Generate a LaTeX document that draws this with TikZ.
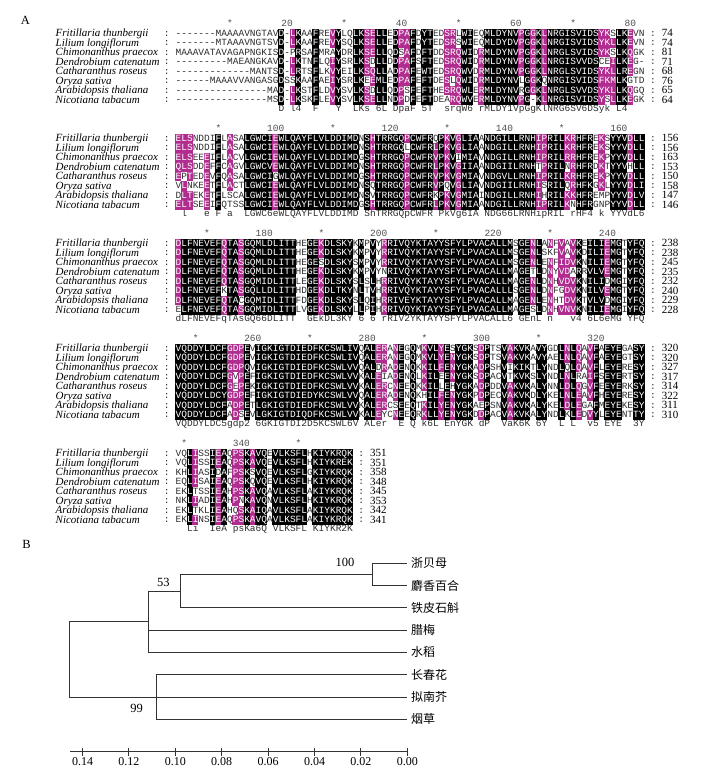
\documentclass[tikz,border=0pt]{standalone}
\usepackage{fontspec}
\setmainfont{Liberation Serif}
\newfontfamily\alnmono{Liberation Mono}
\newfontfamily\cjkfont{Noto Sans CJK SC}
\definecolor{shm}{RGB}{176,44,142}
\definecolor{txtdark}{RGB}{45,45,45}
\definecolor{rulergray}{RGB}{80,80,80}
\newcommand\alnfontsel{\alnmono\fontsize{9.5}{9.5}\selectfont}
\newcommand\alnnamefont{\itshape\fontsize{11}{11}\selectfont}
\newcommand\alnnumfont{\fontsize{11}{11}\selectfont}
\newcommand\alncolon{:}

\ExplSyntaxOn
\int_new:N \l__aln_len_int
\int_new:N \l__aln_off_int
\int_new:N \l__aln_best_int
\int_new:N \l__aln_cnt_int
\int_new:N \l__aln_set_int
\int_new:N \l__aln_bestg_int
\int_new:N \l__aln_cls_int
\int_new:N \l__aln_run_int
\int_new:N \l__aln_start_int
\int_new:N \l__aln_cur_int
\str_new:N \l__aln_best_str
\str_new:N \l__aln_a_str
\str_new:N \l__aln_b_str
\bool_new:N \l__aln_in_bool
\tl_new:N \l__aln_cons_tl
\tl_new:N \l__aln_text_tl
\tl_new:N \l__aln_ruler_tl
\tl_new:N \l__aln_y_tl
\tl_new:N \l__aln_rowy_tl
\tl_new:N \l__aln_xa_tl
\tl_new:N \l__aln_xb_tl
\tl_new:N \l__aln_ya_tl
\tl_new:N \l__aln_yb_tl
\tl_new:N \l__aln_col_tl
\seq_new:N \l__aln_nums_seq
\seq_new:N \g__aln_names_seq
\int_step_inline:nn {8}
  {
    \str_new:c { l__aln_row_#1_str }
    \str_new:c { l__aln_c_#1_str }
    \tl_new:c { l__aln_sh_#1_tl }
  }
\seq_gset_from_clist:Nn \g__aln_names_seq
  {
    Fritillaria~thunbergii, Lilium~longiflorum, Chimonanthus~praecox,
    Dendrobium~catenatum, Catharanthus~roseus, Oryza~sativa,
    Arabidopsis~thaliana, Nicotiana~tabacum
  }
\cs_new:Npn \__aln_group:n #1
  {
    \str_case:nnF {#1}
      {
        {D}{1} {N}{1} {E}{2} {Q}{2} {S}{3} {T}{3} {K}{4} {R}{4}
        {F}{5} {Y}{5} {W}{5} {L}{6} {I}{6} {V}{6} {M}{6}
      }
      {0}
  }
\cs_new_protected:Npn \__aln_cell:nn #1#2
  { \hbox_to_wd:nn { 5.72pt } { \hss \color{#1} #2 \hss } }
\NewDocumentCommand \SetRow { m m }
  { \str_set:cn { l__aln_row_#1_str } {#2} }

\cs_new_protected:Npn \__aln_test:n #1
  {
    \bool_set_false:N \l__aln_in_bool
    \str_set_eq:Nc \l__aln_a_str { l__aln_c_#1_str }
    \str_if_empty:NF \l__aln_a_str
      {
        \str_if_eq:VnF \l__aln_a_str { - }
          {
            \str_if_eq:VVT \l__aln_a_str \l__aln_best_str
              { \bool_set_true:N \l__aln_in_bool }
            \int_compare:nNnT { \l__aln_bestg_int } > { 0 }
              {
                \int_compare:nNnT { \exp_args:NV \__aln_group:n \l__aln_a_str } = { \l__aln_bestg_int }
                  { \bool_set_true:N \l__aln_in_bool }
              }
          }
      }
  }

\cs_new_protected:Npn \__aln_column:n #1
  {
    \int_step_inline:nn {8}
      {
        \str_set:cx { l__aln_c_##1_str }
          { \exp_args:Nc \str_item:Nn { l__aln_row_##1_str } {#1} }
      }
    \int_zero:N \l__aln_best_int
    \str_clear:N \l__aln_best_str
    \int_step_inline:nn {8}
      {
        \str_set_eq:Nc \l__aln_a_str { l__aln_c_##1_str }
        \str_if_empty:NF \l__aln_a_str
          {
            \str_if_eq:VnF \l__aln_a_str { - }
              {
                \int_zero:N \l__aln_cnt_int
                \int_step_inline:nn {8}
                  {
                    \str_set_eq:Nc \l__aln_b_str { l__aln_c_####1_str }
                    \str_if_eq:VVT \l__aln_a_str \l__aln_b_str
                      { \int_incr:N \l__aln_cnt_int }
                  }
                \int_compare:nNnT { \l__aln_cnt_int } > { \l__aln_best_int }
                  {
                    \int_set_eq:NN \l__aln_best_int \l__aln_cnt_int
                    \str_set_eq:NN \l__aln_best_str \l__aln_a_str
                  }
              }
          }
      }
    \int_set:Nn \l__aln_bestg_int { \exp_args:NV \__aln_group:n \l__aln_best_str }
    \int_zero:N \l__aln_set_int
    \int_step_inline:nn {8}
      {
        \__aln_test:n {##1}
        \bool_if:NT \l__aln_in_bool { \int_incr:N \l__aln_set_int }
      }
    \int_set:Nn \l__aln_cls_int
      {
        \int_compare:nNnTF { \l__aln_set_int } = { 8 } { 2 }
          { \int_compare:nNnTF { \l__aln_set_int } > { 5 } { 1 } { 0 } }
      }
    \int_step_inline:nn {8}
      {
        \__aln_test:n {##1}
        \tl_put_right:cx { l__aln_sh_##1_tl }
          { \bool_if:NTF \l__aln_in_bool { \int_use:N \l__aln_cls_int } { 0 } }
      }
    \int_compare:nNnTF { \l__aln_best_int } = { 8 }
      { \tl_put_right:Nx \l__aln_cons_tl { \__aln_cell:nn { txtdark } { \l__aln_best_str } } }
      {
        \int_compare:nNnTF { \l__aln_set_int } = { 8 }
          { \tl_put_right:Nx \l__aln_cons_tl { \__aln_cell:nn { txtdark } { \int_use:N \l__aln_bestg_int } } }
          {
            \int_compare:nNnTF { \l__aln_best_int } > { 5 }
              { \tl_put_right:Nx \l__aln_cons_tl { \__aln_cell:nn { txtdark } { \exp_not:N \lowercase { \l__aln_best_str } } } }
              { \tl_put_right:Nn \l__aln_cons_tl { \__aln_cell:nn { txtdark } { } } }
          }
      }
  }

\cs_new_protected:Npn \__aln_fill:nnnn #1#2#3#4
  {
    \tl_set:Nx \l__aln_xa_tl { \fp_eval:n { 175.4 + (#2 - 1) * 5.72 - 0.2 } }
    \tl_set:Nx \l__aln_xb_tl { \fp_eval:n { 175.4 + (#3) * 5.72 + 0.2 } }
    \tl_set:Nx \l__aln_ya_tl { \fp_eval:n { #4 - 4.8 } }
    \tl_set:Nx \l__aln_yb_tl { \fp_eval:n { #4 + 4.8 } }
    \tl_set:Nx \l__aln_col_tl { \int_compare:nNnTF {#1} = {2} {black} {shm} }
    \fill [ color = \l__aln_col_tl ] ( \l__aln_xa_tl , \l__aln_ya_tl ) rectangle ( \l__aln_xb_tl , \l__aln_yb_tl ) ;
  }

\cs_new_protected:Npn \__aln_draw_row:nnn #1#2#3
  {
    \int_zero:N \l__aln_run_int
    \int_set:Nn \l__aln_start_int { 1 }
    \int_step_inline:nn { \l__aln_len_int + 1 }
      {
        \int_compare:nNnTF { ##1 } > { \l__aln_len_int }
          { \int_zero:N \l__aln_cur_int }
          { \int_set:Nn \l__aln_cur_int { \tl_item:cn { l__aln_sh_#1_tl } { ##1 } } }
        \int_compare:nNnF { \l__aln_cur_int } = { \l__aln_run_int }
          {
            \int_compare:nNnT { \l__aln_run_int } > { 0 }
              { \__aln_fill:nnnn { \l__aln_run_int } { \l__aln_start_int } { ##1 - 1 } { #2 } }
            \int_set_eq:NN \l__aln_run_int \l__aln_cur_int
            \int_set:Nn \l__aln_start_int { ##1 }
          }
      }
    \tl_clear:N \l__aln_text_tl
    \int_step_inline:nn { \l__aln_len_int }
      {
        \tl_put_right:Nx \l__aln_text_tl
          {
            \__aln_cell:nn
              { \int_compare:nNnTF { \tl_item:cn { l__aln_sh_#1_tl } { ##1 } } > { 0 } { white } { txtdark } }
              { \exp_args:Nc \str_item:Nn { l__aln_row_#1_str } { ##1 } }
          }
      }
    \tl_set:Nx \l__aln_y_tl { \fp_eval:n { #2 + 2.9 } }
    \node [ anchor = base~west , inner~sep = 0pt , font = \alnfontsel ] ( #3 ) at ( 175.4 , \l__aln_y_tl ) { \l__aln_text_tl } ;
  }

\cs_new_protected:Npn \aln_block:nnnn #1#2#3#4
  {
    \int_set:Nn \l__aln_off_int {#2}
    \int_set:Nn \l__aln_len_int { \str_count:c { l__aln_row_1_str } }
    \int_step_inline:nn {8} { \tl_clear:c { l__aln_sh_##1_tl } }
    \tl_clear:N \l__aln_cons_tl
    \int_step_function:nN { \l__aln_len_int } \__aln_column:n
    \seq_set_from_clist:Nn \l__aln_nums_seq {#4}
    \tl_clear:N \l__aln_ruler_tl
    \int_step_inline:nn { \l__aln_len_int }
      {
        \int_case:nnF { \int_mod:nn { \l__aln_off_int + ##1 } { 20 } }
          {
            { 10 } { \tl_put_right:Nn \l__aln_ruler_tl { \__aln_cell:nn { rulergray } { * } } }
            { 0 } { \tl_put_right:Nx \l__aln_ruler_tl { \__aln_cell:nn { rulergray } { \exp_not:N \makebox [ 0pt ] { \int_eval:n { \l__aln_off_int + ##1 } } } } }
          }
          { \tl_put_right:Nn \l__aln_ruler_tl { \__aln_cell:nn { rulergray } { } } }
      }
    \tl_set:Nx \l__aln_y_tl { \fp_eval:n { #3 - 10 + 2.9 } }
    \node [ anchor = base~west , inner~sep = 0pt , font = \alnfontsel ] ( #1ruler ) at ( 175.4 , \l__aln_y_tl ) { \l__aln_ruler_tl } ;
    \tl_set:Nx \l__aln_y_tl { \fp_eval:n { #3 + 75 + 2.9 } }
    \node [ anchor = base~west , inner~sep = 0pt , font = \alnfontsel ] ( #1cons ) at ( 175.4 , \l__aln_y_tl ) { \l__aln_cons_tl } ;
    \int_step_inline:nn {8}
      {
        \tl_set:Nx \l__aln_rowy_tl { \fp_eval:n { #3 + (##1 - 1) * 9.5 } }
        \exp_args:NnV \__aln_draw_row:nnn {##1} \l__aln_rowy_tl { #1r##1 }
        \tl_set:Nx \l__aln_y_tl { \fp_eval:n { \l__aln_rowy_tl + 3.6 } }
        \node [ anchor = base~west , inner~sep = 0pt , font = \alnnamefont ] ( #1n##1 ) at ( 55.5 , \l__aln_y_tl ) { \seq_item:Nn \g__aln_names_seq { ##1 } } ;
        \tl_set:Nx \l__aln_y_tl { \fp_eval:n { \l__aln_rowy_tl + 2.9 } }
        \node [ anchor = base , inner~sep = 0pt , font = \alnfontsel , text = txtdark ] ( #1cl##1 ) at ( 166.8 , \l__aln_y_tl ) { \alncolon } ;
        \tl_set:Nx \l__aln_xa_tl { \fp_eval:n { 175.4 + (\l__aln_len_int + 1.5) * 5.72 } }
        \node [ anchor = base , inner~sep = 0pt , font = \alnfontsel , text = txtdark ] ( #1cr##1 ) at ( \l__aln_xa_tl , \l__aln_y_tl ) { \alncolon } ;
        \tl_set:Nx \l__aln_xb_tl { \fp_eval:n { 175.4 + (\l__aln_len_int + 3) * 5.72 } }
        \tl_set:Nx \l__aln_ya_tl { \fp_eval:n { \l__aln_rowy_tl + 3.6 } }
        \node [ anchor = base~west , inner~sep = 0pt , font = \alnnumfont ] ( #1num##1 ) at ( \l__aln_xb_tl , \l__aln_ya_tl ) { \seq_item:Nn \l__aln_nums_seq { ##1 } } ;
      }
  }
\NewDocumentCommand \DrawBlock { m m m m } { \aln_block:nnnn {#1} {#2} {#3} {#4} }
\ExplSyntaxOff

\tikzset{
  branch/.style={draw=black!80, line width=0.9pt},
  leaf/.style={anchor=west, inner sep=0pt, font=\cjkfont\fontsize{12}{12}\selectfont},
  boot/.style={inner sep=1pt, font=\fontsize{12.5}{12.5}\selectfont},
  ticklab/.style={anchor=north, inner sep=0pt, font=\fontsize{12}{12}\selectfont},
  panel/.style={inner sep=0pt, font=\fontsize{12.5}{12.5}\selectfont}
}

\begin{document}
\begin{tikzpicture}[x=1pt,y=-1pt]
\useasboundingbox (0,0) rectangle (702,779);
\fill[white] (0,0) rectangle (702,779);
\node[panel] (labA) at (25.5,20) {A};

% ---------- block 1 ----------
\SetRow{1}{-------MAAAAVNGTAVD-LKAAFREVYLQLKSELLEDPAFDYTEDSRLWIEQMLDYNVPGGKLNRGISVIDSYKSLKEVN}
\SetRow{2}{-------MTAAAVNGTSVD-LKAAFREVYSQLKSELLEDPAFDYTEDSRSWIEQMLDYDVPGGKLNRGISVIDSYKLLKEVN}
\SetRow{3}{MAAAVATAVAGAPNGKISD-PRSAFMRAYDRLKSELLQDSAFDFTDDSRQWIDRMLDYNVPGGKLNRGLSVIDSYKSLKQGK}
\SetRow{4}{---------MAEANGKAVD-LKTNFLQIYSRLKSDLLDDPAFSFTEDSRQWIDRMLDYNVPGGKLNRGISVVDSCEILKEG-}
\SetRow{5}{-------------MANTSD-LRTSFLKVYEILKSQLLADPAFEWTEDSRQWVDRMLDYNVPGGKLNRGLSVIDSYKLLREGN}
\SetRow{6}{------MAAAVVANGASGDSSKAAFAEIYSRLKEEMLEDPAFEFTDESLQWIDRMLDYNVLGGKQNRGISVIDSFKMLKGTD}
\SetRow{7}{----------------MAD-LKSTFLDVYSVLKSDLLQDPSFEFTHESRQWLERMLDYNVRGGKLNRGLSVVDSYKLLKQGQ}
\SetRow{8}{----------------MSD-LKSKFLEVYSVLKSELLNDPDFEFTDEARQWVERMLDYNVPG-KLNRGISVIDSYSLLKEGK}
\DrawBlock{ba}{0}{33.3}{74,74,81,71,68,76,65,64}

% ---------- block 2 ----------
\SetRow{1}{ELSNDDIFLASALGWCIEWLQAYFLVLDDIMDNSHTRRGQPCWFRQPKVGLIAANDGILLRNHIPRILKRHFREKSYYVDLL}
\SetRow{2}{ELSNDDIFLASALGWCIEWLQAYFLVLDDIMDNSHTRRGQLCWFRLPKVGLIAANDGILLRNHIPRILKRHFREKSYYVDLL}
\SetRow{3}{ELSEEEIFLACVLGWCIEWLQAYFLVLDDIMDGSHTRRGQPCWFRVPKVIMIAVNDGILLRNHIPRILRRHFREKPYYVDLL}
\SetRow{4}{QLSDDEFFCAGVLGWCVEWLQAYFLVLDDIMDNSHTRRGQPCWFRLPKVGIIAANDGIILRNHTPRILNRHFRDKTYYVHLL}
\SetRow{5}{EPTEDEVFQASALGWCIGWLQAYFLVLDDIMDGSHTRRGQPCWFRVPKVGMIAVNDGVLLRNHIPRILKRHFREKPYYVDLL}
\SetRow{6}{VLNKEETFLACTLGWCIEWLQAYFLVLDDIMDNSQTRRGQPCWFRVPQVGLIAVNDGIILRNHISRILQRHFKGKLYYVDLI}
\SetRow{7}{DLTEKETFLSCALGWCIEWLQAYFLVLDDIMDNSVTRRGQPCWFRKPKVGMIAINDGILLRNHIHRILKKHFREMPYYVDLV}
\SetRow{8}{ELTSEEIFQTSSLGWCIEWLQAYFLVLDDIMDGSHTRRGQPCWFRLPKVGMIAANDGILLRNHIPRILKNHFRGNPYYVDLL}
\DrawBlock{bb}{82}{138.3}{156,156,163,153,150,158,147,146}

% ---------- block 3 ----------
\SetRow{1}{DLFNEVEFQTASGQMLDLITTHEGEKDLSKYKMPVYRRIVQYKTAYYSFYLPVACALLMSGENLANFVAVKEILIEMGTYFQ}
\SetRow{2}{DLFNEVEFQTASGQMLDLITTHEGEKDLSKYKMPVYRRIVQYKTAYYSFYLPVACALLMSGENLSKFVAVKDILIEMGTYFQ}
\SetRow{3}{DLFNEVEFQTASGQMLDLITTHEGESDLSKYSMPVYRRIVQYKTAYYSFYLPVACALLMSGENLENFIDVKNILIEMGTYFQ}
\SetRow{4}{DLFNEVEFQTASGQMLDLITTHEGEKDLSKYKMPVYNRIVQYKTAYYSFYLPVACALLMAGETLDNYVDARRVLVEMGTYFQ}
\SetRow{5}{DLFNEVEFQTASGQMIDLITTLEGEKDLSKYSLSLHRRIVQYKTAYYSFYLPVACALLMAGENLDNHVDVKNILIDMGIYFQ}
\SetRow{6}{DLFNEVEFKTASGQLLDLITTHDGEKDLTKYNLTVHRRIVQYKTAYYSFYLPVACALLLSGENLDNFGDVKNILVEMGTYFQ}
\SetRow{7}{DLFNEVEFQTACGQMIDLITTFDGEKDLSKYSLQIHRRIVEYKTAYYSFYLPVACALLMAGENLENHTDVKTVLVDMGIYFQ}
\SetRow{8}{ELFNEVEFQTASGQMIDLITTLVGEKDLSKYLLPIHRRIVQYKTAYYSFYLPVACALLMAGESLDNHVNVKNILIEMGIYFQ}
\DrawBlock{bc}{164}{243.3}{238,238,245,235,232,240,229,228}

% ---------- block 4 ----------
\SetRow{1}{VQDDYLDCFGDPEVIGKIGTDIEDFKCSWLIVQALERANEGQMKVLYESYGKSDPTSVAKVKAVYGDLNLQAVFAEYEGASY}
\SetRow{2}{VQDDYLDCFGDPEVIGKIGTDIEDFKCSWLIVQALERANEGQMKVLYENYGKSDPTSVAKVKAVYAELNLQAVFAEYEGTSY}
\SetRow{3}{VQDDYLDCFGDPQVIGKIGTDIEDFKCSWLVVQALDRADENQKKILFENYGKADPSHVIKIKTLYNDLQLQAVFLEYERESY}
\SetRow{4}{VQDDYLDCFGVPEFIGKIGTDIEDFKCSWLVVKALEIADENQLKILEENYGKSDPACVTKVKSLYNDLNLRAIFSEYERTSY}
\SetRow{5}{VQDDYLDCFGEPEKIGKIGTDIEDFKCSWLVVKALERCNEEQKKILLEHYGKADPDDVAKVKALYNNLDLQGVFEEYERKSY}
\SetRow{6}{VQDDYLDCYGDPEFIGKIGTDIEDYKCSWLVVQALERADENQKHILFENYGKPDPECVAKVKDLYKELNLEAVFHEYERESY}
\SetRow{7}{VQDDYLDCFADPETLGKIGTDIEDFKCSWLVVKALERCSEEQTKILYENYGKAEPSNVAKVKALYKELDLEGAFMEYEKESY}
\SetRow{8}{VQDDYLDCFADSEVLGKIGTDIQDFKCSWLVVKALEYCNEEQRKLLYENYGKDDPACVAKVKALYNDLKLEDVYLEYENTTY}
\DrawBlock{bd}{246}{348.3}{320,320,327,317,314,322,311,310}

% ---------- block 5 ----------
\SetRow{1}{VQLISSIEAQPSKAVQEVLKSFLHKIYKRQK}
\SetRow{2}{VQLISSIEAQPSKAVQEVLKSFLHKIYKREK}
\SetRow{3}{KHLIASIDAFPSKSVQEVLKSFLGKIYKRQK}
\SetRow{4}{EQLISAIEAQPSKQVQEVLKSFLHKIYKRQK}
\SetRow{5}{EKLTSSIEAHPSKAVQAVLKSFLAKIYKRQK}
\SetRow{6}{NKLIADIEAHPNKAVQNVLKSFLHKIYKRQK}
\SetRow{7}{EKLTKLIEAHQSKAIQAVLKSFLAKIYKRQK}
\SetRow{8}{EKLINSIEAQPSKAVQAVLKSFLAKIYKRQK}
\DrawBlock{be}{328}{453.3}{351,351,358,348,345,353,342,341}

% ---------- panel B: tree ----------
\node[panel] (labB) at (26.5,544) {B};

\coordinate (t1) at (407.3,563.3);
\coordinate (t2) at (407.3,585.6);
\coordinate (t3) at (407.3,607.9);
\coordinate (t4) at (407.3,630.1);
\coordinate (t5) at (407.3,652.4);
\coordinate (t6) at (407.3,674.7);
\coordinate (t7) at (407.3,697.0);
\coordinate (t8) at (407.3,719.3);
\node[leaf] (l1) at (410.8,563.3) {浙贝母};
\node[leaf] (l2) at (410.8,585.6) {麝香百合};
\node[leaf] (l3) at (410.8,607.9) {铁皮石斛};
\node[leaf] (l4) at (410.8,630.1) {腊梅};
\node[leaf] (l5) at (410.8,652.4) {水稻};
\node[leaf] (l6) at (410.8,674.7) {长春花};
\node[leaf] (l7) at (410.8,697.0) {拟南芥};
\node[leaf] (l8) at (410.8,719.3) {烟草};

\coordinate (nA) at (372.7,574.45);
\coordinate (nB) at (180.3,591.2);
\coordinate (nC) at (148.3,621.8);
\coordinate (nD) at (156.7,697.0);
\coordinate (root) at (69.3,659.4);

\draw[branch] (nA) |- (t1);
\draw[branch] (nA) |- (t2);
\draw[branch] (nB) |- (nA);
\draw[branch] (nB) |- (t3);
\draw[branch] (nC) |- (nB);
\draw[branch] (nC) |- (t4);
\draw[branch] (nC) |- (t5);
\draw[branch] (nD) |- (t6);
\draw[branch] (nD) |- (t8);
\draw[branch] (root) |- (nC);
\draw[branch] (root) |- (t7);

\node[boot] (bs100) at (345,562.7) {100};
\node[boot] (bs53) at (163.3,582.7) {53};
\node[boot] (bs99) at (136.7,708.3) {99};

% scale axis
\coordinate (axL) at (70,751.7);
\coordinate (axR) at (407.3,751.7);
\draw[branch] (axL) -- (axR);
\foreach \i/\lab in {0/0.00,1/0.02,2/0.04,3/0.06,4/0.08,5/0.10,6/0.12,7/0.14}{
  \coordinate (tk\i) at ({407.3-46.4*\i},751.7);
  \draw[branch] ([yshift=4pt]tk\i) -- ([yshift=-4pt]tk\i);
  \node[ticklab] (tl\i) at ({407.3-46.4*\i},757.5) {\lab};
}
\end{tikzpicture}
\end{document}
